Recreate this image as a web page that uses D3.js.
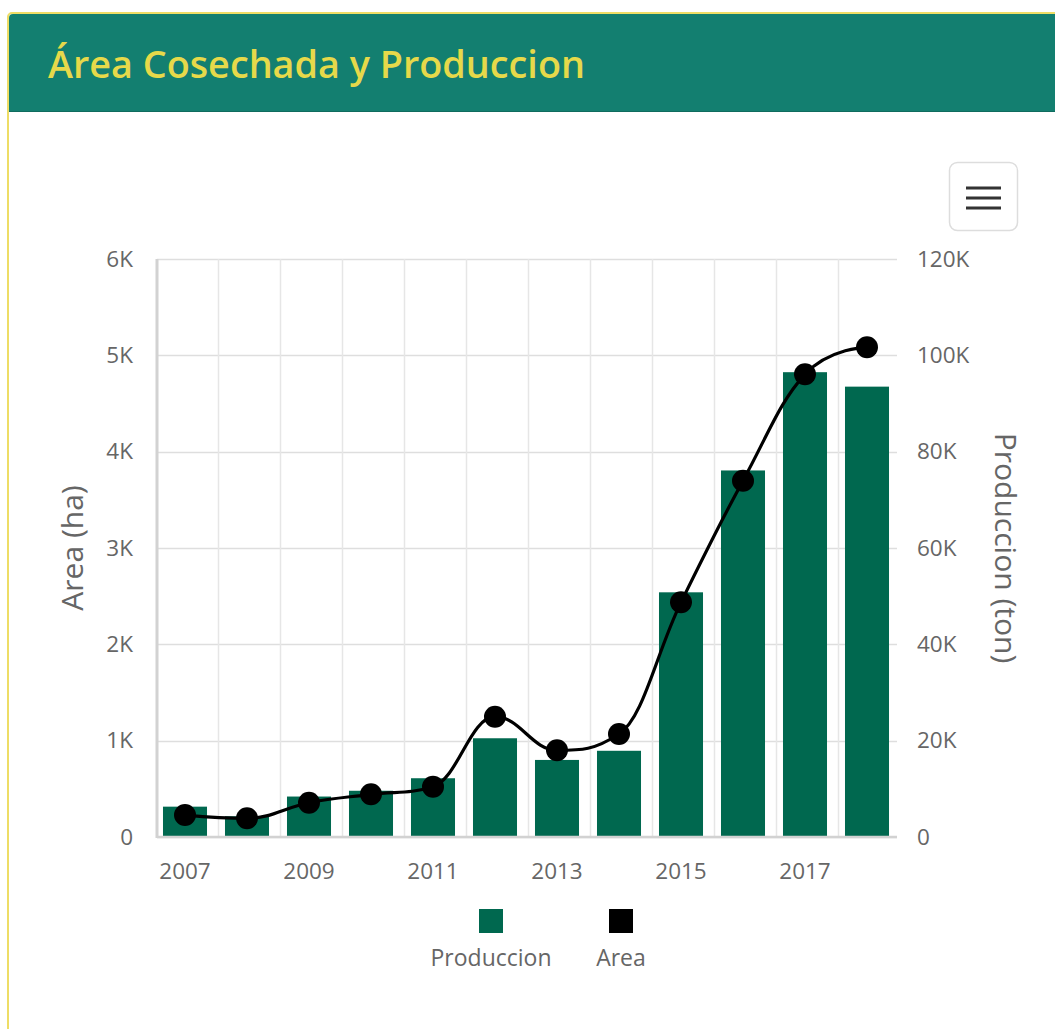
<!DOCTYPE html>
<html>
<head>
<meta charset="utf-8">
<script src="https://cdn.jsdelivr.net/npm/d3@7"></script>
<style>
  html, body { margin: 0; padding: 0; background: #fff; }
  body { width: 1055px; height: 1029px; overflow: hidden; font-family: "Open Sans", "Noto Sans", sans-serif; }
  svg { display: block; }
</style>
</head>
<body>
<svg id="chart" width="1055" height="1029"></svg>
<script>
// data
var years = [2007, 2008, 2009, 2010, 2011, 2012, 2013, 2014, 2015, 2016, 2017, 2018];
var produccion = [6300, 4300, 8400, 9600, 12200, 20500, 16000, 17900, 50800, 76100, 96500, 93500];
var area = [228, 194, 356, 443, 522, 1249, 900, 1069, 2436, 3699, 4803, 5083];
var leftTicks = [0, 1000, 2000, 3000, 4000, 5000, 6000];
var rightTicks = [0, 20000, 40000, 60000, 80000, 100000, 120000];
var xLabels = [2007, 2009, 2011, 2013, 2015, 2017];

var barColor = "#00684f";
var textColor = "#666666";

var svg = d3.select("#chart");

// card + header
svg.append("rect").attr("x", 8).attr("y", 13).attr("width", 1060).attr("height", 1030)
  .attr("rx", 4).attr("fill", "#fff").attr("stroke", "#eedd66").attr("stroke-width", 2);
svg.append("path")
  .attr("d", "M9,112 L9,18 Q9,14 13,14 L1055,14 L1055,112 Z")
  .attr("fill", "#137f70");
svg.append("line").attr("x1", 9).attr("x2", 1055).attr("y1", 111.5).attr("y2", 111.5)
  .attr("stroke", "#0f6b5e").attr("stroke-width", 1);
var title = svg.append("text").attr("x", 48).attr("y", 78)
  .attr("fill", "#e6d94a").attr("font-weight", 600).attr("font-size", 32)
  .text("Área Cosechada y Produccion");
// fit the title to the width it has in the reference
var tw = title.node().getComputedTextLength();
title.attr("font-size", 32 * 537 / tw);

// menu button
var menu = svg.append("g");
menu.append("rect").attr("x", 949.5).attr("y", 162.5).attr("width", 68).attr("height", 68)
  .attr("rx", 8).attr("fill", "#fff").attr("stroke", "#dddddd").attr("stroke-width", 1.5);
[0, 1, 2].forEach(function(i) {
  menu.append("line").attr("x1", 966).attr("x2", 1001)
    .attr("y1", 188 + i * 10).attr("y2", 188 + i * 10)
    .attr("stroke", "#333").attr("stroke-width", 3);
});

// scales
var plotLeft = 157, plotRight = 890, plotTop = 259, plotBottom = 837;
var x = d3.scaleBand().domain(years).range([154, 898]).paddingInner(0.29).paddingOuter(0.145);
var yLeft = d3.scaleLinear().domain([0, 6000]).range([plotBottom, plotTop]);
var yRight = d3.scaleLinear().domain([0, 120000]).range([plotBottom, plotTop]);

// grid
var grid = svg.append("g");
grid.selectAll(".hgrid").data(leftTicks).enter().append("line")
  .attr("x1", plotLeft).attr("x2", plotRight + 7)
  .attr("y1", function(d) { return Math.round(yLeft(d)) + 0.5; })
  .attr("y2", function(d) { return Math.round(yLeft(d)) + 0.5; })
  .attr("stroke", "#dedede").attr("stroke-width", 1.5);
grid.selectAll(".vgrid").data(years.slice(1)).enter().append("line")
  .attr("x1", function(d) { return Math.round(x(d) - x.step() * 0.11) + 0.5; })
  .attr("x2", function(d) { return Math.round(x(d) - x.step() * 0.11) + 0.5; })
  .attr("y1", plotTop).attr("y2", plotBottom)
  .attr("stroke", "#e6e6e6").attr("stroke-width", 1.5);

// bars (right axis)
svg.append("g").selectAll("rect").data(years).enter().append("rect")
  .attr("x", function(d) { return x(d); })
  .attr("width", x.bandwidth())
  .attr("y", function(d, i) { return yRight(produccion[i]); })
  .attr("height", function(d, i) { return plotBottom - yRight(produccion[i]); })
  .attr("fill", barColor);

// axis lines
svg.append("line").attr("x1", plotLeft).attr("x2", plotLeft).attr("y1", plotTop).attr("y2", plotBottom + 1)
  .attr("stroke", "#d2d2d2").attr("stroke-width", 3);
svg.append("line").attr("x1", plotLeft).attr("x2", plotRight + 7).attr("y1", plotBottom).attr("y2", plotBottom)
  .attr("stroke", "#d2d2d2").attr("stroke-width", 2.5);

// spline like the original chart: control points at 0.4 of the gap,
// clamped so the curve makes no false extremes
function splinePath(pts) {
  var p = d3.path();
  var smoothing = 1.5, denom = 2.5;
  var rc = [];
  pts.forEach(function(pt, i) {
    var lc = [pt[0], pt[1]];
    rc[i] = [pt[0], pt[1]];
    if (i > 0 && i < pts.length - 1) {
      var last = pts[i - 1], next = pts[i + 1];
      var lx = (smoothing * pt[0] + last[0]) / denom, ly = (smoothing * pt[1] + last[1]) / denom;
      var rx = (smoothing * pt[0] + next[0]) / denom, ry = (smoothing * pt[1] + next[1]) / denom;
      var corr = (ry - ly) * (rx - pt[0]) / (rx - lx) + pt[1] - ry;
      ly += corr; ry += corr;
      if (ly > last[1] && ly > pt[1]) { ly = Math.max(last[1], pt[1]); ry = 2 * pt[1] - ly; }
      else if (ly < last[1] && ly < pt[1]) { ly = Math.min(last[1], pt[1]); ry = 2 * pt[1] - ly; }
      if (ry > next[1] && ry > pt[1]) { ry = Math.max(next[1], pt[1]); ly = 2 * pt[1] - ry; }
      else if (ry < next[1] && ry < pt[1]) { ry = Math.min(next[1], pt[1]); ly = 2 * pt[1] - ry; }
      lc = [lx, ly];
      rc[i] = [rx, ry];
    }
    if (i === 0) p.moveTo(pt[0], pt[1]);
    else p.bezierCurveTo(rc[i - 1][0], rc[i - 1][1], lc[0], lc[1], pt[0], pt[1]);
  });
  return p.toString();
}

// line (left axis)
var pts = area.map(function(d, i) { return [x(years[i]) + x.bandwidth() / 2, yLeft(d)]; });
svg.append("path").attr("d", splinePath(pts))
  .attr("fill", "none").attr("stroke", "#000").attr("stroke-width", 3.2);
svg.append("g").selectAll("circle").data(area).enter().append("circle")
  .attr("cx", function(d, i) { return x(years[i]) + x.bandwidth() / 2; })
  .attr("cy", function(d) { return yLeft(d); })
  .attr("r", 11).attr("fill", "#000");

// axes
var fmtK = function(d) { return d === 0 ? "0" : (d / 1000) + "K"; };
var axisL = d3.axisLeft(yLeft).tickValues(leftTicks).tickFormat(fmtK).tickSize(0).tickPadding(24);
var gL = svg.append("g").attr("transform", "translate(" + plotLeft + ",0)").call(axisL);
var axisR = d3.axisRight(yRight).tickValues(rightTicks).tickFormat(fmtK).tickSize(0).tickPadding(27);
var gR = svg.append("g").attr("transform", "translate(" + plotRight + ",0)").call(axisR);
var axisB = d3.axisBottom(x).tickValues(xLabels).tickSize(0).tickPadding(26);
var gB = svg.append("g").attr("transform", "translate(0," + plotBottom + ")").call(axisB);
[gL, gR, gB].forEach(function(g) {
  g.select(".domain").remove();
  g.selectAll("text").attr("fill", textColor).attr("font-size", 22.5)
    .attr("font-family", "'Open Sans', 'Noto Sans', sans-serif");
});

// axis titles
svg.append("text").attr("transform", "translate(83,548) rotate(-90)")
  .attr("text-anchor", "middle").attr("fill", textColor).attr("font-size", 30)
  .text("Area (ha)");
svg.append("text").attr("transform", "translate(995,548) rotate(90)")
  .attr("text-anchor", "middle").attr("fill", textColor).attr("font-size", 30)
  .text("Produccion (ton)");

// legend
var legendItems = [
  { name: "Produccion", color: barColor, cx: 491 },
  { name: "Area", color: "#000", cx: 621 }
];
var lg = svg.append("g").selectAll("g").data(legendItems).enter().append("g");
lg.append("rect").attr("x", function(d) { return d.cx - 12; }).attr("y", 909)
  .attr("width", 24).attr("height", 24).attr("fill", function(d) { return d.color; });
lg.append("text").attr("x", function(d) { return d.cx; }).attr("y", 966)
  .attr("text-anchor", "middle").attr("fill", textColor).attr("font-size", 23)
  .text(function(d) { return d.name; });
</script>
</body>
</html>
